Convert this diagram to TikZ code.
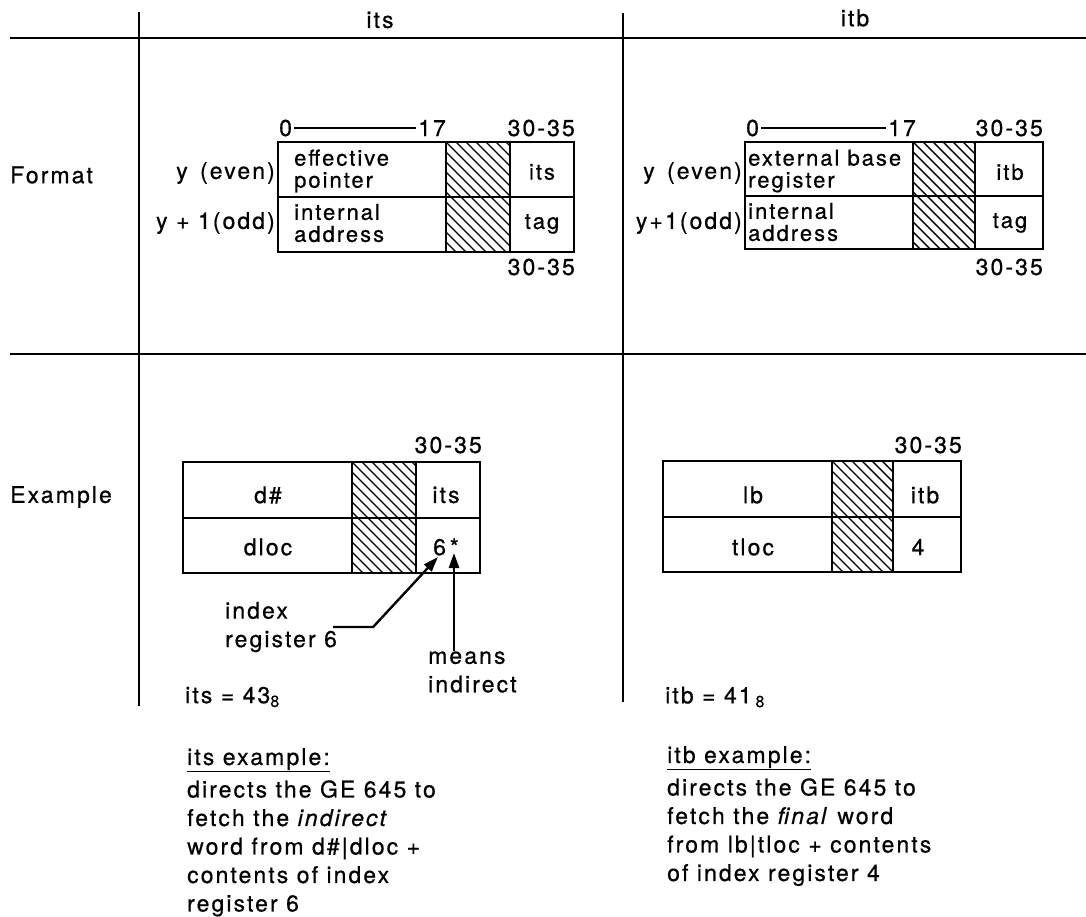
\documentclass[tikz,border=0pt]{standalone}
\usepackage{fontspec}
\setmainfont{TeX Gyre Heros}[LetterSpace=9,FakeBold=0.6]
\usetikzlibrary{arrows.meta,positioning}

\begin{document}
\begin{tikzpicture}[
  x=1pt, y=-1pt,
  font=\fontsize{23}{28.5}\selectfont,
  txt/.style={inner sep=0pt, align=left},
  cell/.style={inner sep=0pt, align=left, font=\fontsize{22}{22}\selectfont},
  bit/.style={inner sep=2pt},
  rule/.style={line width=2pt},
  wordbox/.style={line width=2.6pt},
  hatch/.style={path picture={
      \foreach \i in {-130,-120,...,70}
        \draw[line width=1.4pt] ([xshift=\i pt]path picture bounding box.north west) -- ++(130pt,-130pt);}},
  pointer/.style={line width=2.4pt, -{Triangle[length=15pt,width=10pt]}},
]
\useasboundingbox (0,0) rectangle (1086,917);

% table frame
\draw[rule] (10,38) -- (1086,38);
\draw[rule] (10,354) -- (1086,354);
\draw[rule] (139,12) -- (139,706);
\draw[rule] (623,13) -- (623,702);

\node (hits) at (380,20) {its};
\node (hitb) at (855,18) {itb};
\node[txt, anchor=west] (format) at (10,175) {Format};
\node[txt, anchor=west] (example) at (10,497) {Example};

% format, its
\path[hatch] (446,142) rectangle (510,252);
\draw[wordbox] (278,142) rectangle (574,252);
\draw[wordbox] (278,197) -- (574,197);
\draw[wordbox] (446,142) -- (446,252) (510,142) -- (510,252);
\node[bit, anchor=west] (fsz) at (277,128) {0};
\node[bit] (fss) at (432,128) {17};
\draw[line width=1.4pt] (fsz) -- (fss);
\node[txt, anchor=east] (fstop) at (575,128) {30-35};
\node[txt, anchor=east] (fsbot) at (575,267) {30-35};
\node[txt, anchor=east] (fsev) at (275,173) {y\, (even)};
\node[txt, anchor=east] (fsod) at (275,223) {y + 1(odd)};
\node[cell, anchor=west] (fsptr) at (294,171) {effective\\pointer};
\node[cell, anchor=west] (fsadr) at (294,223) {internal\\address};
\node[cell] (fsits) at (542,172) {its};
\node[cell] (fstag) at (542,224) {tag};

% format, itb
\path[hatch] (913,142) rectangle (975,249);
\draw[wordbox] (745,142) rectangle (1043,249);
\draw[wordbox] (745,196) -- (1043,196);
\draw[wordbox] (913,142) -- (913,249) (975,142) -- (975,249);
\node[bit, anchor=west] (fbz) at (744,128) {0};
\node[bit] (fbs) at (902,128) {17};
\draw[line width=1.4pt] (fbz) -- (fbs);
\node[txt, anchor=east] (fbtop) at (1043,128) {30-35};
\node[txt, anchor=east] (fbbot) at (1043,267) {30-35};
\node[txt, anchor=east] (fbev) at (742,173) {y\, (even)};
\node[txt, anchor=east] (fbod) at (742,223) {y+1(odd)};
\node[cell, anchor=west] (fbreg) at (748,171) {external base\\register};
\node[cell, anchor=west] (fbadr) at (748,222) {internal\\address};
\node[cell] (fbitb) at (1010,172) {itb};
\node[cell] (fbtag) at (1010,223) {tag};

% example, its
\path[hatch] (352,462) rectangle (416,573);
\draw[wordbox] (183,462) rectangle (480,573);
\draw[wordbox] (183,518) -- (480,518);
\draw[wordbox] (352,462) -- (352,573) (416,462) -- (416,573);
\node[txt, anchor=east] (estop) at (482,445) {30-35};
\node (esd) at (268,495) {d\#};
\node (esloc) at (268,547) {dloc};
\node (esits) at (446,495) {its};
\node (essix) at (446,547) {6\,*};
\coordinate (sixtip) at (438,557);
\coordinate (startip) at (454,553);
\node[txt, anchor=west] (idx) at (225,627) {index\\register 6};
\node[txt, anchor=west] (mean) at (428,672) {means\\indirect};
\draw[pointer] ([xshift=-4pt]idx.east) -- ++(40,0) -- (sixtip);
\draw[pointer] (startip |- mean.north) -- (startip);
\node[txt, anchor=west] (itsval) at (185,697) {its = 43\textsubscript{8}};

% example, itb
\path[hatch] (832,461) rectangle (893,572);
\draw[wordbox] (663,461) rectangle (961,572);
\draw[wordbox] (663,517) -- (961,517);
\draw[wordbox] (832,461) -- (832,572) (893,461) -- (893,572);
\node[txt, anchor=east] (ebtop) at (962,445) {30-35};
\node (eblb) at (753,495) {lb};
\node (ebloc) at (753,547) {tloc};
\node (ebitb) at (925,495) {itb};
\node (ebfour) at (918,547) {4};
\node[txt, anchor=west] (itbval) at (665,697) {itb = 41\,\textsubscript{8}};

% notes
\node[txt, anchor=north west] (itsex) at (187,748) {\underline{its example:}\\[4pt]
  directs the GE 645 to\\ fetch the \textit{indirect}\\ word from d\#|dloc +\\
  contents of index\\ register 6};
\node[txt, anchor=north west] (itbex) at (667,746) {\underline{itb example:}\\[4pt]
  directs the GE 645 to\\ fetch the \textit{final} word\\ from lb|tloc + contents\\
  of index register 4};
\end{tikzpicture}
\end{document}
